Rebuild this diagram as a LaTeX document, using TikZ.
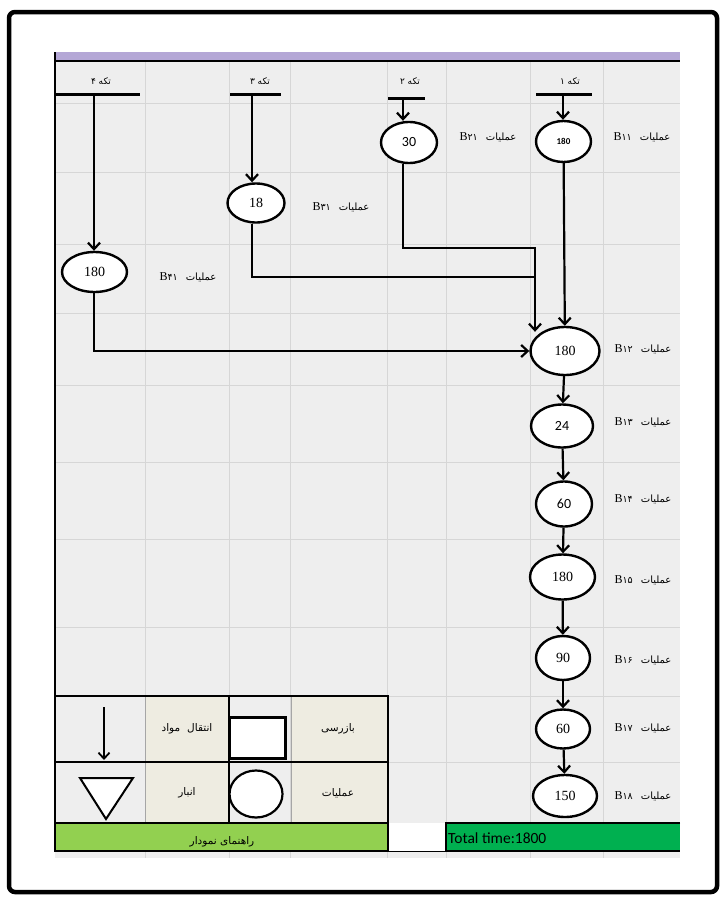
\documentclass[tikz,border=0pt]{standalone}
\usepackage{fontspec}
\setmainfont{Liberation Serif}
\newfontfamily\fa[Script=Arabic]{DejaVu Sans}
\newfontfamily\calfont{Carlito}
\TeXXeTstate=1
\usetikzlibrary{shapes.geometric,arrows.meta,calc}
\definecolor{gridbg}{HTML}{EEEEEE}
\definecolor{gridln}{HTML}{D6D6D6}
\definecolor{purp}{HTML}{B4A7D6}
\definecolor{beige}{HTML}{EEECE1}
\definecolor{lgreen}{HTML}{92D050}
\definecolor{dgreen}{HTML}{00B050}
\newcommand\oplabel[1]{B{\fa\fontsize{9.5}{11}\selectfont #1}\hspace{8pt}{\fa\fontsize{10}{12}\selectfont\beginR عملیات\endR}}
\begin{document}
\begin{tikzpicture}[x=1pt,y=-1pt,
  conn/.style={line width=2.2pt,-{Straight Barb[length=6.5pt,width=12pt]}},
  seg/.style={line width=2.2pt},
  bar/.style={line width=3pt},
  op/.style={ellipse,draw,line width=2.4pt,fill=white,inner sep=0pt},
  lbl/.style={inner sep=0pt,font=\fontsize{12}{14}\selectfont},
  hdr/.style={inner sep=0pt,font=\fa\fontsize{9}{11}\selectfont},
  leg/.style={inner sep=0pt,font=\fa\fontsize{10.5}{12}\selectfont},
  sn/.style={font=\calfont\fontsize{14}{16}\selectfont},
  rn/.style={font=\fontsize{14}{16}\selectfont}]
\useasboundingbox (0,0) rectangle (723,897);
\fill[white] (0,0) rectangle (723,897);
% frame
\draw[line width=4.5pt,rounded corners=6pt] (9,12) rectangle (717,892);
% grid
\fill[gridbg] (55,54) rectangle (680,858);
\foreach \x in {145,229,290,387,446,530,603} \draw[gridln,line width=0.8pt] (\x,61) -- (\x,858);
\foreach \y in {103,172,244,313,385,462,539,627,696,762,823,851} \draw[gridln,line width=0.8pt] (55,\y) -- (680,\y);
\fill[purp] (55,52) rectangle (680,60);
\draw[line width=1.8pt] (55,61) -- (680,61);
\draw[line width=1.8pt] (55,52) -- (55,851);
% headers
\node[hdr] (h4) at (101,81) {\beginR تکه ۴\endR};
\node[hdr] (h3) at (260,81) {\beginR تکه ۳\endR};
\node[hdr] (h2) at (410,81) {\beginR تکه ۲\endR};
\node[hdr] (h1) at (570,81) {\beginR تکه ۱\endR};
% bars
\coordinate (b4l) at (55,94); \coordinate (b4r) at (140,94); \coordinate (p4) at (94,94);
\coordinate (b3l) at (230,94); \coordinate (b3r) at (281,94); \coordinate (p3) at (252,94);
\coordinate (b2l) at (388,98); \coordinate (b2r) at (425,98); \coordinate (p2) at (403,98);
\coordinate (b1l) at (536,94); \coordinate (b1r) at (592,94); \coordinate (p1) at (563,94);
\draw[bar] (b4l) -- (b4r); \draw[bar] (b3l) -- (b3r); \draw[bar] (b2l) -- (b2r); \draw[bar] (b1l) -- (b1r);
% operations
\node[op,minimum width=55pt,minimum height=41pt,font=\calfont\bfseries\fontsize{9}{10}\selectfont] (B11) at (563.5,141.5) {180};
\node[op,minimum width=56pt,minimum height=41pt,sn] (B21) at (409,142.5) {30};
\node[op,minimum width=57pt,minimum height=39pt,rn] (B31) at (256,203) {18};
\node[op,minimum width=65pt,minimum height=40pt,rn] (B41) at (94.5,272) {180};
\node[op,minimum width=69pt,minimum height=48pt,rn] (B12) at (565,351) {180};
\node[op,minimum width=62pt,minimum height=43pt,sn] (B13) at (562,426) {24};
\node[op,minimum width=56pt,minimum height=45pt,sn] (B14) at (564,504) {60};
\node[op,minimum width=65pt,minimum height=45pt,rn] (B15) at (562.5,577) {180};
\node[op,minimum width=54pt,minimum height=44pt,rn] (B16) at (563,658) {90};
\node[op,minimum width=54pt,minimum height=39pt,rn] (B17) at (563,729) {60};
\node[op,minimum width=64pt,minimum height=42pt,rn] (B18) at (565,796) {150};
% labels
\node[lbl] (L11) at (642,137) {\oplabel{۱۱}};
\node[lbl] (L21) at (488,137) {\oplabel{۲۱}};
\node[lbl] (L31) at (341,207) {\oplabel{۳۱}};
\node[lbl] (L41) at (188,277) {\oplabel{۴۱}};
\node[lbl] (L12) at (643,349) {\oplabel{۱۲}};
\node[lbl] (L13) at (643,422) {\oplabel{۱۳}};
\node[lbl] (L14) at (643,499) {\oplabel{۱۴}};
\node[lbl] (L15) at (643,580) {\oplabel{۱۵}};
\node[lbl] (L16) at (643,660) {\oplabel{۱۶}};
\node[lbl] (L17) at (643,728) {\oplabel{۱۷}};
\node[lbl] (L18) at (643,796) {\oplabel{۱۸}};
% connectors
\draw[conn] (p1) -- (p1 |- B11.north);
\draw[conn] (p2) -- (p2 |- B21.north);
\draw[conn] (p3) -- (p3 |- B31.north);
\draw[conn] (p4) -- (p4 |- B41.north);
\coordinate (j2) at (535,248);
\coordinate (j3) at (535,277);
\draw[seg] (p3 |- B31.south) |- (j3);
\draw[conn] (p2 |- B21.south) |- (j2) -- ($(j2 |- B12.north)+(0,6)$);
\draw[conn] (B11) -- (B12);
\draw[conn] (p4 |- B41.south) |- (B12.west);
\draw[conn] (B12) -- (B13);
\draw[conn] (B13) -- (B14);
\draw[conn] (B14) -- (B15);
\draw[conn] (B15) -- (B16);
\draw[conn] (B16) -- (B17);
\draw[conn] (B17) -- (B18);
% legend
\fill[beige] (145,696) rectangle (229,823);
\fill[beige] (291,696) rectangle (388,823);
\fill[white] (388,823) rectangle (446,851);
\fill[lgreen] (55,823) rectangle (388,851);
\fill[dgreen] (446,823) rectangle (680,851);
\draw[gray!70,line width=0.8pt] (145,696) -- (145,823) (291,696) -- (291,823);
\draw[line width=1.8pt] (55,696) rectangle (388,851);
\draw[line width=1.8pt] (55,762) -- (388,762) (55,823) -- (388,823) (229,696) -- (229,823);
\draw[line width=1.8pt] (680,823) -- (446,823) -- (446,851) -- (680,851);
\draw[line width=1pt] (388,851) -- (446,851);
\node[draw,line width=2.4pt,fill=white,minimum width=56pt,minimum height=41pt,inner sep=0pt] (symI) at (257.5,738) {};
\node[ellipse,draw,line width=2.2pt,fill=white,minimum width=53pt,minimum height=47pt,inner sep=0pt] (symO) at (256,794) {};
\draw[line width=2pt,fill=white] (80,778) -- (133,778) -- (106,819) -- cycle;
\coordinate (aS) at (104,707); \coordinate (aE) at (104,760);
\draw[line width=1.8pt,-{Straight Barb[length=6pt,width=11pt]}] (aS) -- (aE);
\node[leg] (t1) at (187,729) {\beginR انتقال\hspace{7pt}مواد\endR};
\node[leg] (t2) at (338,729) {\beginR بازرسی\endR};
\node[leg] (t3) at (187,793) {\beginR انبار\endR};
\node[leg] (t4) at (338,793) {\beginR عملیات\endR};
\node[leg] (t5) at (222,842) {\beginR راهنمای نمودار\endR};
\node[font=\calfont\fontsize{15.5}{17}\selectfont,anchor=west,inner sep=0pt] (tt) at (448,838) {Total time:1800};
\end{tikzpicture}
\end{document}
